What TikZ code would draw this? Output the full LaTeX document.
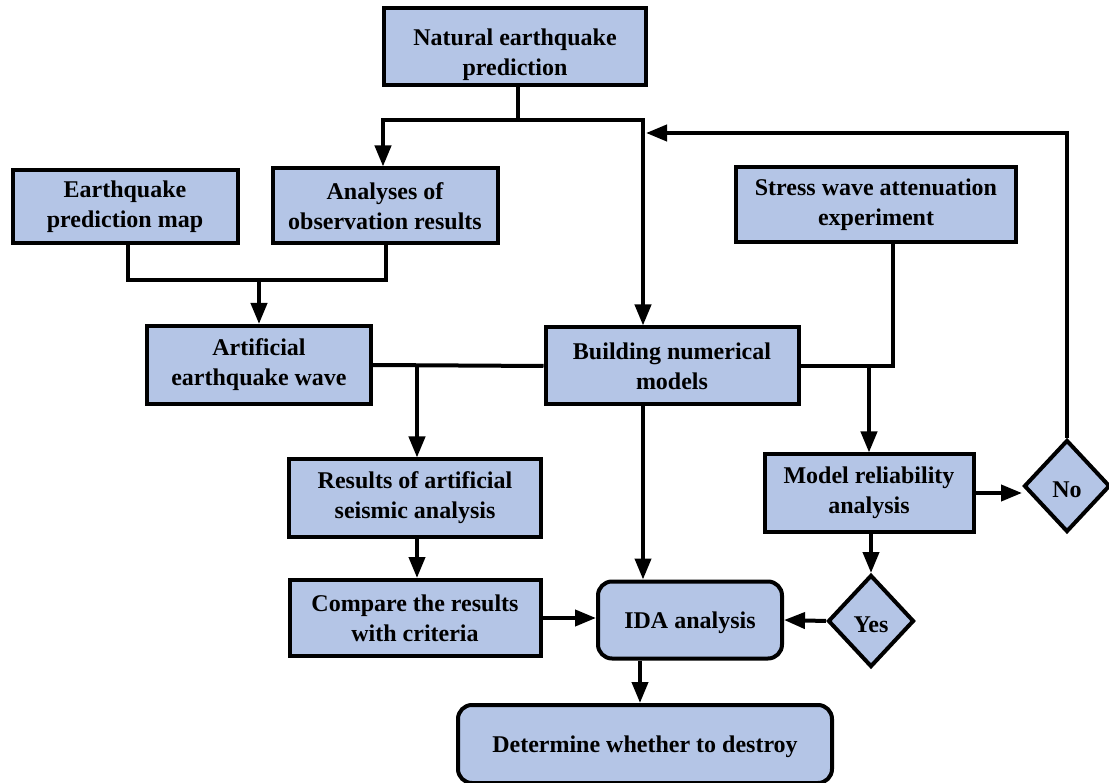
\documentclass[tikz,border=0pt]{standalone}
\usepackage{fontspec}
\setmainfont{Liberation Serif}
\usepackage{tikz}
\usetikzlibrary{shapes.geometric, arrows.meta, positioning}
\definecolor{boxblue}{RGB}{180,197,230}

\begin{document}
\begin{tikzpicture}[x=1pt, y=-1pt]
		\tikzstyle{Box} = [rectangle, inner sep=0pt, align=center, draw=black, line width=4pt, fill=boxblue, font=\fontsize{24}{30}\selectfont\bfseries, execute at begin node={\rule{0pt}{23pt}}]
		\tikzstyle{Round} = [Box, rounded corners=14pt]
		\tikzstyle{Decision} = [Box, diamond, minimum width=86pt, minimum height=92pt]
		\tikzstyle{line} = [line width=4pt, black]
		\tikzstyle{arrow} = [line, -{Triangle[length=21pt, width=16pt]}]
		
		\useasboundingbox (0,0) rectangle (1109,783);
		
		\node (nat) [Box, minimum width=262pt, minimum height=77pt] at (515,47) {\rule{0pt}{33pt}Natural earthquake\\prediction};
		\node (map) [Box, minimum width=225pt, minimum height=73pt] at (125,207) {Earthquake\\prediction map};
		\node (obs) [Box, minimum width=225pt, minimum height=75pt] at (385,206) {Analyses of\\observation results};
		\node (stress) [Box, minimum width=280pt, minimum height=75pt] at (876,205) {Stress wave attenuation\\experiment};
		\node (wave) [Box, minimum width=224pt, minimum height=78pt] at (259,365) {Artificial\\earthquake wave};
		\node (model) [Box, minimum width=253pt, minimum height=77pt] at (672,366) {Building numerical\\models};
		\node (res) [Box, minimum width=252pt, minimum height=77pt] at (415,498) {Results of artificial\\seismic analysis};
		\node (rel) [Box, minimum width=209pt, minimum height=77pt] at (869,493) {Model reliability\\analysis};
		\node (no) [Decision] at (1067,486) {No};
		\node (comp) [Box, minimum width=251pt, minimum height=76pt] at (415,618) {Compare the results\\with criteria};
		\node (ida) [Round, minimum width=184pt, minimum height=77pt] at (690,620) {IDA analysis};
		\node (yes) [Decision] at (871,621) {Yes};
		\node (dest) [Round, minimum width=374pt, minimum height=78pt] at (645,744) {Determine whether to destroy};
		
		% top branching
		\coordinate (j1) at (518,120);
		\coordinate (t1) at (643,120);
		\draw [line] (nat.south -| j1) -- (j1);
		\draw [arrow] (j1) -| (obs.north -| 383,0);
		\draw [arrow] (j1) -- (t1) -- (t1 |- model.north);
		\draw [arrow] (no.north) |- (646,133);
		
		% maps to artificial wave
		\coordinate (j2) at (259,280);
		\coordinate (m1) at (128,280);
		\coordinate (m2) at (386,280);
		\draw [line] (map.south -| m1) -- (m1) -- (m2) -- (obs.south -| m2);
		\draw [arrow] (j2) -- (wave.north);
		
		% middle row
		\coordinate (j3) at (417,366);
		\draw [line] (wave.east) -- (model.west);
		\draw [arrow] (j3) -- (res.north -| j3);
		\coordinate (j4) at (893,366);
		\coordinate (j5) at (869,366);
		\draw [line] (stress.south -| j4) -- (j4) -- (model.east |- j4);
		\draw [arrow] (j5) -- (rel.north -| j5);
		\draw [arrow] (model.south -| t1) -- (ida.north -| t1);
		
		% lower part
		\draw [arrow] (res.south -| j3) -- (comp.north -| j3);
		\draw [arrow] (comp.east) -- (comp.east -| ida.west);
		\draw [arrow] (rel.east) -- (rel.east -| no.west);
		\draw [arrow] (rel.south -| yes.north) -- (yes.north);
		\draw [arrow] (yes.west) -- (ida.east);
		\draw [arrow] (ida.south -| 640,0) -- (dest.north -| 640,0);
\end{tikzpicture}
\end{document}
